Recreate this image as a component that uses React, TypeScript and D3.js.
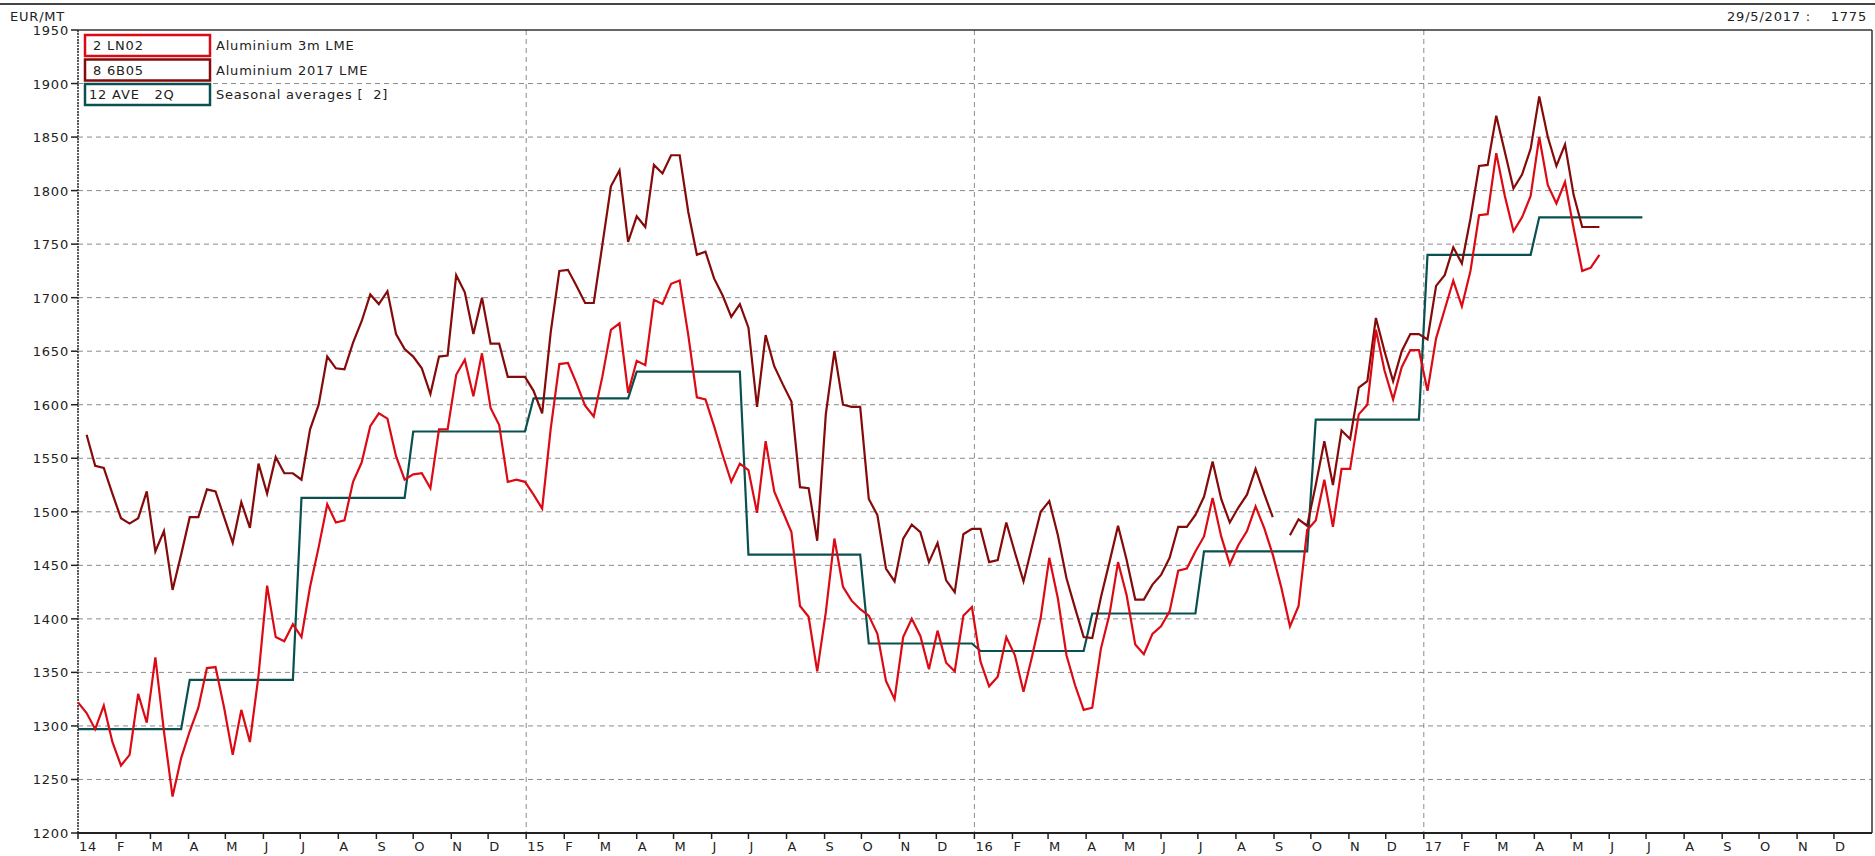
import * as d3 from 'd3';

// weekly observations (Wednesdays)
const LME_3M_START = '2014-01-01';
const LME_3M = [
  1322, 1312, 1297, 1319, 1285, 1263, 1273, 1330, 1303, 1364,
  1295, 1234, 1270, 1295, 1317, 1354, 1355, 1317, 1273, 1315,
  1285, 1347, 1431, 1383, 1379, 1395, 1383, 1430, 1467, 1507,
  1490, 1492, 1528, 1546, 1580, 1592, 1587,
  1552, 1530, 1535, 1536, 1522, 1577, 1577, 1628, 1642, 1608, 1648, 1597, 1581, 1528, 1530,
  1528, 1516, 1503, 1578, 1638, 1639, 1620, 1599, 1589, 1626, 1670, 1676, 1611, 1641, 1637,
  1698, 1694, 1713, 1716, 1665,
  1607, 1605, 1580, 1553, 1528, 1545, 1539, 1499, 1566, 1519, 1500, 1481, 1412, 1402, 1351,
  1406, 1475, 1430, 1417, 1409, 1403, 1386, 1342, 1325, 1383, 1400, 1384, 1353, 1389, 1359,
  1351, 1403,
  1411, 1360, 1337, 1346, 1383, 1366, 1332, 1365, 1401, 1457, 1419, 1366, 1338, 1315, 1317,
  1372, 1404, 1453, 1422, 1376, 1367, 1386, 1393, 1407, 1445, 1447, 1463, 1477, 1513, 1477,
  1451, 1469, 1482, 1505, 1485, 1460, 1429, 1393,
  1412, 1483, 1492, 1530, 1486, 1540, 1540, 1591, 1600, 1670, 1632, 1605, 1635, 1651, 1651,
  1613, 1662, 1689, 1716, 1692, 1725,
  1777, 1778, 1835, 1795, 1762, 1775, 1795, 1850, 1805, 1788, 1808, 1765, 1725, 1728, 1740,
];

// Aluminium 2017 LME, two segments (one week missing in Sep 2016)
const LME_2017_A_START = '2014-01-08';
const LME_2017_A = [
  1572, 1543, 1541, 1517, 1494, 1489, 1494, 1519, 1463, 1482, 1427, 1460, 1495, 1495, 1521,
  1519, 1495, 1471, 1509, 1485, 1545, 1517, 1551, 1536, 1536, 1530, 1577, 1600, 1645, 1634,
  1633, 1658, 1678, 1703, 1694, 1706,
  1666, 1652, 1645, 1634, 1610, 1645, 1646, 1721, 1705, 1666, 1700, 1657, 1657, 1626, 1626,
  1626, 1613, 1592, 1668, 1725, 1726, 1711, 1695, 1695, 1749, 1804, 1819, 1752, 1776, 1766,
  1824, 1816, 1833, 1833, 1780,
  1740, 1743, 1718, 1702,
  1682, 1694, 1672, 1598, 1665, 1636, 1619, 1603, 1523, 1522, 1473, 1591, 1650, 1600, 1598,
  1598, 1512, 1497, 1447, 1435, 1475, 1488, 1481, 1453, 1471, 1436, 1425, 1479,
  1484, 1484, 1453, 1455, 1490, 1462, 1435, 1468, 1500, 1510, 1478, 1438, 1410, 1383, 1382,
  1420, 1453, 1487, 1455, 1418, 1418, 1432, 1441, 1457, 1486, 1486, 1497, 1514, 1547, 1512,
  1490, 1504, 1516, 1540, 1517, 1495,
];
const LME_2017_B_START = '2016-09-14';
const LME_2017_B = [
  1478, 1493, 1487, 1525, 1566, 1525, 1576, 1568, 1616, 1622,
  1681, 1650, 1622, 1650, 1666, 1666, 1661, 1711, 1721, 1747,
  1732, 1774, 1823, 1824, 1870, 1836, 1802, 1815, 1839, 1888,
  1850, 1823, 1843, 1796, 1766, 1766, 1766,
];

// seasonal averages, one value per quarter
const QUARTERS = [
  '2014-01-01', '2014-04-01', '2014-07-01', '2014-10-01',
  '2015-01-01', '2015-04-01', '2015-07-01', '2015-10-01',
  '2016-01-01', '2016-04-01', '2016-07-01', '2016-10-01',
  '2017-01-01', '2017-04-01',
];
const SEASONAL = [1297, 1343, 1513, 1575, 1606, 1631, 1460, 1377, 1370, 1405, 1463, 1586, 1740, 1775];

const Y_TICKS = [1200, 1250, 1300, 1350, 1400, 1450, 1500, 1550, 1600, 1650, 1700, 1750, 1800, 1850, 1900, 1950];
const GRID_Y = [1250, 1300, 1350, 1400, 1450, 1500, 1550, 1600, 1650, 1700, 1750, 1800, 1850, 1900];
const YEARS = [2014, 2015, 2016, 2017];
const YEAR_LABELS = ['14', '15', '16', '17'];
const MONTH_LETTERS = ['F', 'M', 'A', 'M', 'J', 'J', 'A', 'S', 'O', 'N', 'D'];

const LEGEND = [
  { code: '2 LN02', name: 'Aluminium 3m LME', color: '#dc0a14' },
  { code: '8 6B05', name: 'Aluminium 2017 LME', color: '#850a0a' },
  { code: '12 AVE   2Q', name: 'Seasonal averages [  2]', color: '#0a5050' },
];

const W = 1875, H = 856;
const L = 78, R = 1872, T = 30, B = 833;
const FONT = '"DejaVu Sans", Verdana, sans-serif';

const parse = (s: string) => {
  const [y, m, d] = s.split('-').map(Number);
  return new Date(y, m - 1, d);
};

type Pt = { date: Date; v: number };

const weekly = (start: string, vals: number[]): Pt[] =>
  vals.map((v, i) => ({ date: d3.timeDay.offset(parse(start), 7 * i), v }));

export default function App() {
  const x = d3.scaleTime().domain([new Date(2014, 0, 1), new Date(2018, 0, 1)]).range([L, R]);
  const y = d3.scaleLinear().domain([1200, 1950]).range([B, T]);
  const line = d3.line<Pt>().x(d => x(d.date)).y(d => y(d.v));

  const red = weekly(LME_3M_START, LME_3M);
  const darkA = weekly(LME_2017_A_START, LME_2017_A);
  const darkB = weekly(LME_2017_B_START, LME_2017_B);

  const seasonal: Pt[] = [];
  QUARTERS.forEach((q, i) => {
    const s = parse(q);
    const weds = d3.timeWednesday.range(s, d3.timeMonth.offset(s, 3));
    seasonal.push({ date: weds[0], v: SEASONAL[i] });
    seasonal.push({ date: weds[weds.length - 1], v: SEASONAL[i] });
  });

  const months: { d: Date; label: string }[] = [];
  YEARS.forEach((yr, i) => {
    months.push({ d: new Date(yr, 0, 1), label: YEAR_LABELS[i] });
    MONTH_LETTERS.forEach((m, j) => months.push({ d: new Date(yr, j + 1, 1), label: m }));
  });

  const txt = { fontFamily: FONT, fontSize: 13, letterSpacing: 0.8, fill: '#222' } as const;

  return (
    <svg width={W} height={H} style={{ position: 'absolute', left: 0, top: 0, background: '#fff' }}>
      <rect x={0} y={0} width={W} height={H} fill="#fff" />
      <line x1={0} x2={W} y1={4} y2={4} stroke="#444" strokeWidth={2} />
      <text x={10} y={21} {...txt}>EUR/MT</text>
      <text x={1867} y={21} textAnchor="end" {...txt} style={{ whiteSpace: 'pre' }}>{'29/5/2017 :    1775'}</text>

      {/* grid */}
      {GRID_Y.map(v => (
        <line key={v} x1={L} x2={R} y1={y(v)} y2={y(v)} stroke="#8a8a8a" strokeDasharray="5,4" strokeWidth={1} />
      ))}
      {YEARS.map(yr => (
        <line key={yr} x1={x(new Date(yr, 0, 1))} x2={x(new Date(yr, 0, 1))} y1={T} y2={B}
          stroke="#8a8a8a" strokeDasharray="5,4" strokeWidth={1} />
      ))}

      {/* frame */}
      <line x1={L} x2={R} y1={T} y2={T} stroke="#333" strokeWidth={1.5} />
      <line x1={R} x2={R} y1={T} y2={B} stroke="#333" strokeWidth={1.5} />
      <line x1={L} x2={L} y1={T} y2={B} stroke="#333" strokeWidth={1.5} strokeDasharray="2,1" />
      <line x1={L - 1} x2={R} y1={B} y2={B} stroke="#222" strokeWidth={2} />

      {/* y axis */}
      {Y_TICKS.map(v => (
        <g key={v}>
          <line x1={L - 7} x2={L} y1={y(v)} y2={y(v)} stroke="#222" strokeWidth={1.5} />
          <text x={L - 9} y={y(v) + 5} textAnchor="end" {...txt}>{v}</text>
        </g>
      ))}

      {/* x axis */}
      {months.map((m, i) => (
        <g key={i}>
          <line x1={x(m.d)} x2={x(m.d)} y1={B} y2={B + 6} stroke="#222" strokeWidth={1.5} />
          <text x={x(m.d) + 1} y={851} {...txt}>{m.label}</text>
        </g>
      ))}

      {/* series */}
      <path d={line(seasonal) || ''} fill="none" stroke="#0a5050" strokeWidth={2.2} />
      <path d={line(darkA) || ''} fill="none" stroke="#850a0a" strokeWidth={2.2} />
      <path d={line(darkB) || ''} fill="none" stroke="#850a0a" strokeWidth={2.2} />
      <path d={line(red) || ''} fill="none" stroke="#dc0a14" strokeWidth={2.2} />

      {/* legend */}
      {LEGEND.map((d, i) => {
        const top = 35 + i * 24.5;
        return (
          <g key={d.code}>
            <rect x={85} y={top} width={125} height={21} fill="#fff" stroke={d.color} strokeWidth={2.5} />
            <text x={i === 2 ? 89 : 93} y={top + 15} {...txt} style={{ whiteSpace: 'pre' }}>{d.code}</text>
            <text x={216} y={top + 15} {...txt} style={{ whiteSpace: 'pre' }}>{d.name}</text>
          </g>
        );
      })}
    </svg>
  );
}
